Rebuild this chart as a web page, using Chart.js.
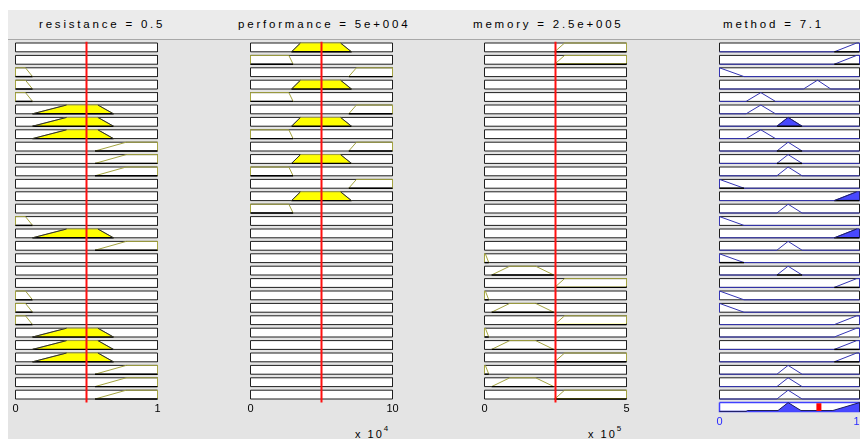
<!DOCTYPE html>
<html>
<head>
<meta charset="utf-8">
<script src="https://cdn.jsdelivr.net/npm/chart.js@4.4.1/dist/chart.umd.min.js"></script>
<style>
  html, body { margin: 0; padding: 0; width: 860px; height: 439px; overflow: hidden; background: #fff;
    font-family: "Liberation Sans", Arial, sans-serif; }
  #panel { position: absolute; left: 8px; top: 10px; width: 852px; height: 429px; background: #e4e4e4; }
  #band { position: absolute; left: 8px; top: 10px; width: 852px; height: 29px; background: #ebebeb;
    border-bottom: 1px solid #a8a8a8; }
  .title { position: absolute; top: 17px; font-size: 11.5px; line-height: 14px; letter-spacing: 2.8px;
    color: #000; white-space: nowrap; }
  .exp { position: absolute; top: 424px; font-size: 11px; line-height: 14px; letter-spacing: 2px;
    color: #000; white-space: nowrap; }
  .exp sup { font-size: 8px; letter-spacing: 0; position: relative; top: -2px; }
  canvas { position: absolute; top: 0; }
</style>
</head>
<body>
<div id="panel"></div>
<div id="band"></div>
<div class="title" style="left:39px">resistance = 0.5</div>
<div class="title" style="left:238px">performance = 5e+004</div>
<div class="title" style="left:473px">memory = 2.5e+005</div>
<div class="title" style="left:723px">method = 7.1</div>
<div class="exp" style="left:355px">x 10<sup>4</sup></div>
<div class="exp" style="left:588px">x 10<sup>5</sup></div>
<canvas id="cRes"></canvas>
<canvas id="cPerf"></canvas>
<canvas id="cMem"></canvas>
<canvas id="cMethod"></canvas>
<script>
// 隶属函数参数 [a, b, c, d]（梯形，三角形时 b = c）
const resistanceRange = [0, 1];
const resistanceLow = [0, 0, 0.07, 0.12];
const resistanceMid = [0.12, 0.36, 0.58, 0.69];
const resistanceHigh = [0.56, 0.78, 1, 1];
const resistanceInput = 0.5;

const performanceRange = [0, 100000];
const performanceLow = [0, 0, 27000, 30000];
const performanceMid = [28900, 35200, 63400, 71100];
const performanceHigh = [69200, 74600, 100000, 100000];
const performanceInput = 50000;

const memoryRange = [0, 500000];
const memoryLow = [0, 0, 3000, 15000];
const memoryMid = [25000, 89000, 180000, 244000];
const memoryHigh = [247000, 282000, 500000, 500000];
const memoryInput = 250000;

const methodRange = [0, 10];
const methodLow = [0, 0, 0, 1.75];
const methodMF3 = [1.9, 2.95, 2.95, 4.0];
const methodMF5 = [4.1, 4.9, 4.9, 5.9];
const methodMF7 = [6.0, 7.0, 7.0, 7.95];
const methodHigh = [8.2, 9.8, 10, 10];
const methodOutput = 7.1;

// 规则表：0 = 不使用，其余为隶属函数编号
const ruleResistance = [0,0,1,1,1,2,2,2,3,3,3,0,0,0,1,2,3,0,0,0,1,1,1,2,2,2,3,3,3];
const rulePerformance = [2,1,3,2,1,3,2,1,3,2,1,3,2,1,0,0,0,0,0,0,0,0,0,0,0,0,0,0,0];
const ruleMemory = [3,3,0,0,0,0,0,0,0,0,0,0,0,0,0,0,0,1,2,3,1,2,3,1,2,3,1,2,3];
const ruleMethod = [5,5,1,4,2,2,3,2,3,3,3,1,5,3,1,5,3,1,3,5,1,1,5,5,5,5,3,3,3];
// 输出填充高度（null = 无填充）
const ruleStrength = [0,0,null,null,null,null,1,null,0,0,null,0,1,null,null,1,null,0,0,0,
  null,null,null,null,0,0,null,null,null];

// 聚合输出曲线
const aggregateX = [0, 1.9, 2.0, 4.18, 4.9, 5.82, 8.1, 10, 10];
const aggregateMu = [0, 0, 0.1, 0.1, 1, 0.1, 0.1, 1, 0];

const BOX_H = 0.71;      // 每行方框高度（行单位）
const PITCH = 12.4;      // 每行像素
const TOP = 43;

function trapMu(p, x) {
  const [a, b, c, d] = p;
  if (x >= b && x <= c) return 1;
  if (x < b) return x <= a ? 0 : (x - a) / (b - a);
  return x >= d ? 0 : (d - x) / (d - c);
}

// 隶属度 -> 行内 y 值
const yOf = (row, mu) => row + BOX_H * (1 - mu);
const toRow = (pts, row) => pts.map(([x, m]) => [x, yOf(row, m)]);

function lineSet(pts, style) {
  return Object.assign({
    data: pts.map(([x, y]) => ({ x, y })),
    showLine: true,
    pointRadius: 0,
    pointHoverRadius: 0,
    borderWidth: 1,
    tension: 0,
    fill: false,
    clip: false,
  }, style);
}

function boxSet(range, row, color, width) {
  const [x0, x1] = range;
  return lineSet([[x0, row], [x1, row], [x1, row + BOX_H], [x0, row + BOX_H], [x0, row]], {
    borderColor: color, borderWidth: width, backgroundColor: '#ffffff', fill: 'shape', order: 5,
  });
}

// 隶属函数曲线；full = true 时包括两侧的零值部分
function mfLineSet(p, range, row, color, full) {
  const [a, b, c, d] = p;
  let pts = [[a, 0], [b, 1], [c, 1], [d, 0]];
  if (full) pts = [[range[0], 0], ...pts, [range[1], 0]];
  return lineSet(toRow(pts, row), { borderColor: color, order: 3 });
}

// 按高度 h 截断的填充块，外加两侧斜边与底边
function patchSets(p, row, h, fillColor, edgeColor) {
  const [a, b, c, d] = p;
  const a2 = a + (b - a) * h;
  const d2 = d - (d - c) * h;
  const out = [];
  if (h > 0) {
    out.push(lineSet(toRow([[a, 0], [a2, h], [d2, h], [d, 0], [a, 0]], row), {
      borderWidth: 0, borderColor: fillColor, backgroundColor: fillColor, fill: 'shape', order: 4,
    }));
    out.push(lineSet(toRow([[a, 0], [a2, h]], row), { borderColor: edgeColor, order: 2 }));
    out.push(lineSet(toRow([[d2, h], [d, 0]], row), { borderColor: edgeColor, order: 2 }));
  }
  out.push(lineSet(toRow([[a, 0], [d, 0]], row), { borderColor: '#000000', borderWidth: 1.4, order: 2 }));
  return out;
}

function makeChart(id, boxLeft, boxWidth, nRows, range, datasets, tickFmt, tickColor, stepSize) {
  const canvas = document.getElementById(id);
  canvas.width = boxWidth + 30;
  canvas.height = Math.round(TOP + nRows * PITCH + 22);
  canvas.style.left = (boxLeft - 15) + 'px';
  const bottomPad = canvas.height - 20 - (TOP + nRows * PITCH);

  return new Chart(canvas, {
    type: 'scatter',
    data: { datasets },
    options: {
      responsive: false,
      maintainAspectRatio: false,
      animation: false,
      events: [],
      layout: { padding: { left: 15.5, right: 14.5, top: TOP, bottom: bottomPad } },
      plugins: { legend: { display: false }, tooltip: { enabled: false } },
      scales: {
        x: {
          type: 'linear',
          min: range[0],
          max: range[1],
          grid: { display: false, drawTicks: false },
          border: { display: false },
          ticks: {
            stepSize: stepSize,
            autoSkip: false,
            maxRotation: 0,
            padding: 0,
            color: tickColor,
            font: { family: 'Liberation Sans', size: 11 },
            callback: tickFmt,
          },
          afterFit: (scale) => { scale.height = 20; },
        },
        y: { type: 'linear', min: 0, max: nRows, reverse: true, display: false },
      },
    },
  });
}

function inputChart(id, boxLeft, range, mfs, rules, input, tickFmt) {
  const N = rules.length;
  const ds = [];
  rules.forEach((k, row) => {
    ds.push(boxSet(range, row, '#1e1e1e', 1));
    if (!k) return;
    const p = mfs[k - 1];
    ds.push(mfLineSet(p, range, row, '#a4a440', false));
    ds.push(...patchSets(p, row, trapMu(p, input), '#ffff00', '#303030'));
  });
  ds.push(lineSet([[input, -0.1], [input, N]], { borderColor: '#ff1010', borderWidth: 2, order: 0 }));
  return makeChart(id, boxLeft, 142, N, range, ds, tickFmt, '#000000', range[1] - range[0]);
}

inputChart('cRes', 15, resistanceRange, [resistanceLow, resistanceMid, resistanceHigh],
  ruleResistance, resistanceInput, (v) => String(v));
inputChart('cPerf', 250, performanceRange, [performanceLow, performanceMid, performanceHigh],
  rulePerformance, performanceInput, (v) => String(v / 10000));
inputChart('cMem', 484, memoryRange, [memoryLow, memoryMid, memoryHigh],
  ruleMemory, memoryInput, (v) => String(v / 100000));

// 输出列
(function () {
  const mfs = [methodLow, methodMF3, methodMF5, methodMF7, methodHigh];
  const N = ruleMethod.length;
  const ds = [];
  ruleMethod.forEach((k, row) => {
    ds.push(boxSet(methodRange, row, '#1e1e1e', 1));
    const p = mfs[k - 1];
    ds.push(mfLineSet(p, methodRange, row, '#3434b4', true));
    const h = ruleStrength[row];
    if (h !== null) ds.push(...patchSets(p, row, h, '#4848ff', '#202070'));
  });
  const aggRow = N;
  ds.push(boxSet(methodRange, aggRow, '#4040ff', 1.5));
  ds.push(lineSet(toRow(aggregateX.map((x, i) => [x, aggregateMu[i]]), aggRow), {
    borderColor: '#1c1c5a', borderWidth: 1, backgroundColor: '#4848ff', fill: 'shape', order: 2,
  }));
  ds.push(lineSet([[methodOutput, aggRow + 0.06], [methodOutput, aggRow + BOX_H - 0.04]], {
    borderColor: '#ff0000', borderWidth: 5, order: 0,
  }));
  makeChart('cMethod', 719, 140, N + 1, methodRange, ds, (v) => String(v), '#2a2aff', 10);
})();
</script>
</body>
</html>
